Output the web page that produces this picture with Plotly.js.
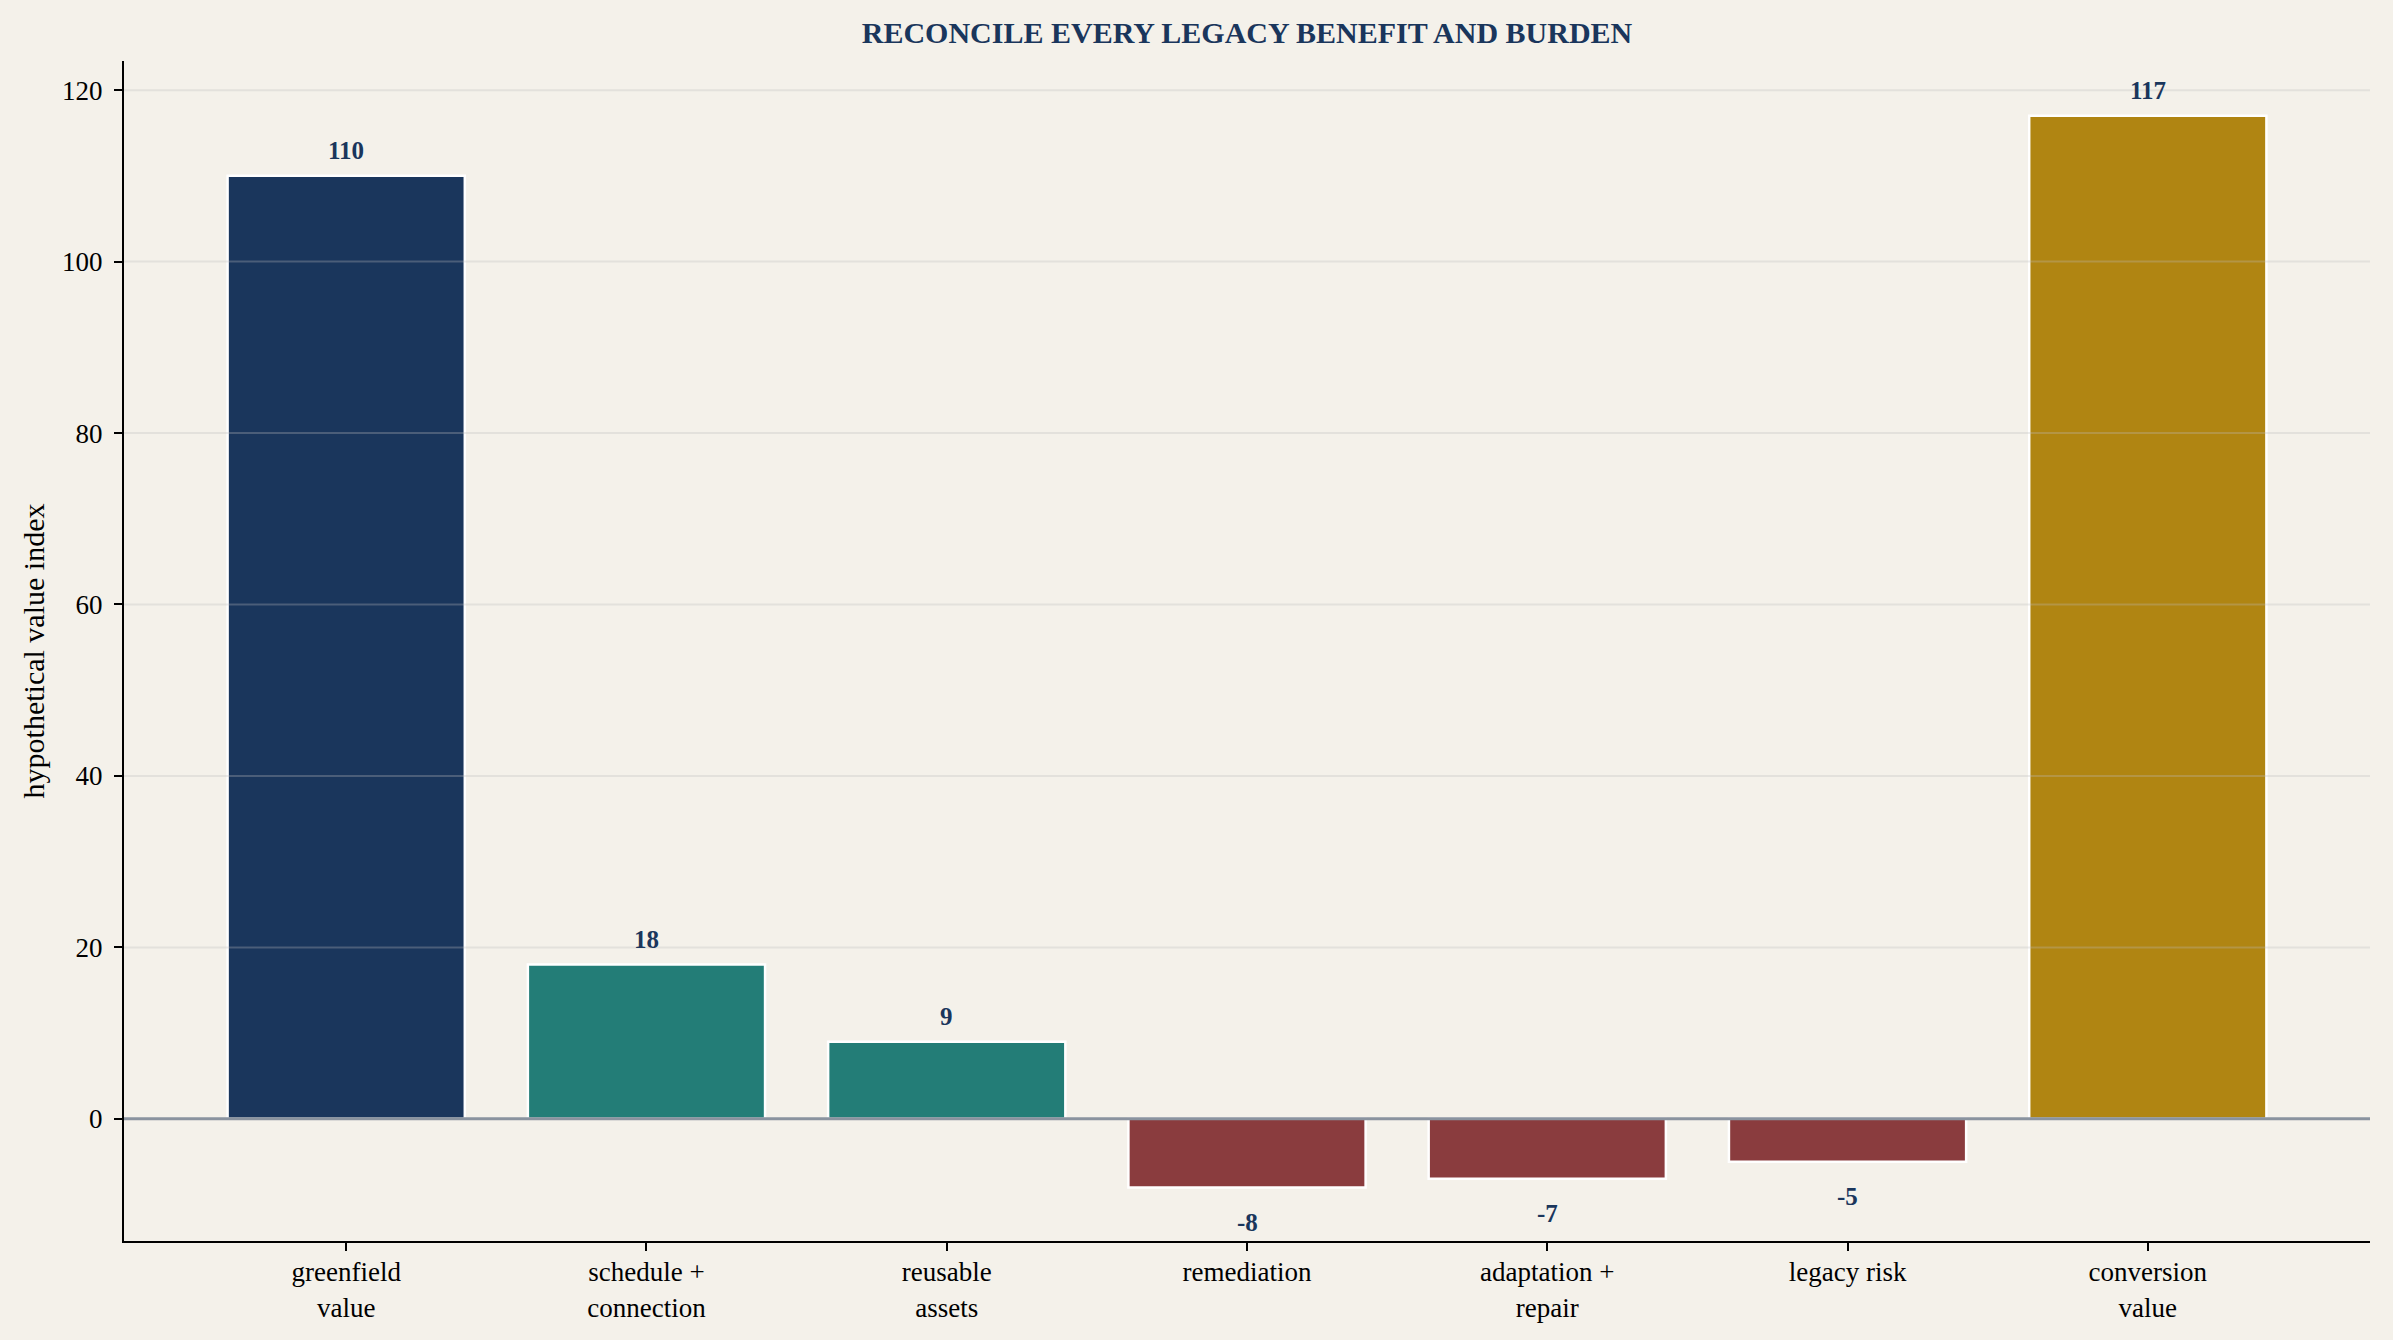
<!DOCTYPE html>
<html>
<head>
<meta charset="utf-8">
<script src="https://cdn.plot.ly/plotly-3.0.1.min.js"></script>
<style>
  html, body { margin: 0; padding: 0; background: #f4f1ea; }
  #chart { width: 2393px; height: 1340px; }
</style>
</head>
<body>
<div id="chart"></div>
<script>
// data
const categories = ["greenfield<br>value", "schedule +<br>connection", "reusable<br>assets",
    "remediation", "adaptation +<br>repair", "legacy risk", "conversion<br>value"];
const values = [110, 18, 9, -8, -7, -5, 117];
const kinds = ["base", "gain", "gain", "loss", "loss", "loss", "total"];
const yTicks = [0, 20, 40, 60, 80, 100, 120];

const kindColors = {base: "#1a365c", gain: "#237d77", loss: "#8a3c3e", total: "#b08512"};
const font = "'Liberation Serif', 'Times New Roman', serif";
const navy = "#1a365c";

const barTrace = {
    type: "bar",
    x: categories,
    y: values,
    width: 0.79,
    marker: {
        color: kinds.map(k => kindColors[k]),
        line: {color: "#ffffff", width: 2.5}
    },
    hoverinfo: "x+y"
};

// value labels above positive bars, below negative ones
const labels = values.map((v, i) => ({
    x: categories[i],
    y: v,
    xref: "x",
    yref: "y",
    text: "<b>" + v + "</b>",
    showarrow: false,
    yanchor: "middle",
    yshift: v >= 0 ? 25 : -35,
    font: {family: font, size: 25, color: navy}
}));

// grid drawn over the bars, like the original
const gridShapes = yTicks.filter(t => t !== 0).map(t => ({
    type: "line", xref: "paper", yref: "y",
    x0: 0, x1: 1, y0: t, y1: t,
    layer: "above",
    line: {color: "rgba(190,190,190,0.3)", width: 2}
}));
const zeroShape = {
    type: "line", xref: "paper", yref: "y",
    x0: 0, x1: 1, y0: 0, y1: 0,
    layer: "above",
    line: {color: "#8a939f", width: 3}
};

const layout = {
    width: 2393,
    height: 1340,
    paper_bgcolor: "#f4f1ea",
    plot_bgcolor: "#f4f1ea",
    margin: {l: 124, r: 23, t: 61, b: 99},
    showlegend: false,
    font: {family: font, size: 27, color: "#000000"},
    title: {
        text: "<b>RECONCILE EVERY LEGACY BENEFIT AND BURDEN</b>",
        font: {family: font, size: 30, color: navy},
        x: 0.5 + (124 - 23) / 2 / 2393,
        xanchor: "center",
        y: 1 - 32 / 1340,
        yanchor: "middle"
    },
    xaxis: {
        type: "category",
        range: [-0.74, 6.74],
        showgrid: false,
        showline: true,
        linecolor: "#000000",
        linewidth: 2,
        ticks: "outside",
        ticklen: 8,
        tickwidth: 2,
        tickcolor: "#000000",
        ticklabelstandoff: -2,
        tickfont: {family: font, size: 27, color: "#000000"},
        zeroline: false
    },
    yaxis: {
        range: [-14.25, 123.4],
        tickvals: yTicks,
        ticktext: yTicks.map(String),
        showgrid: false,
        zeroline: false,
        showline: true,
        linecolor: "#000000",
        linewidth: 2,
        ticks: "outside",
        ticklen: 8,
        tickwidth: 2,
        tickcolor: "#000000",
        ticklabelstandoff: 6,
        tickfont: {family: font, size: 27, color: "#000000"},
        title: {
            text: "hypothetical value index",
            font: {family: font, size: 30, color: "#000000"},
            standoff: 9
        }
    },
    shapes: [...gridShapes, zeroShape],
    annotations: labels
};

Plotly.newPlot("chart", [barTrace], layout, {displayModeBar: false, staticPlot: true});
</script>
</body>
</html>
